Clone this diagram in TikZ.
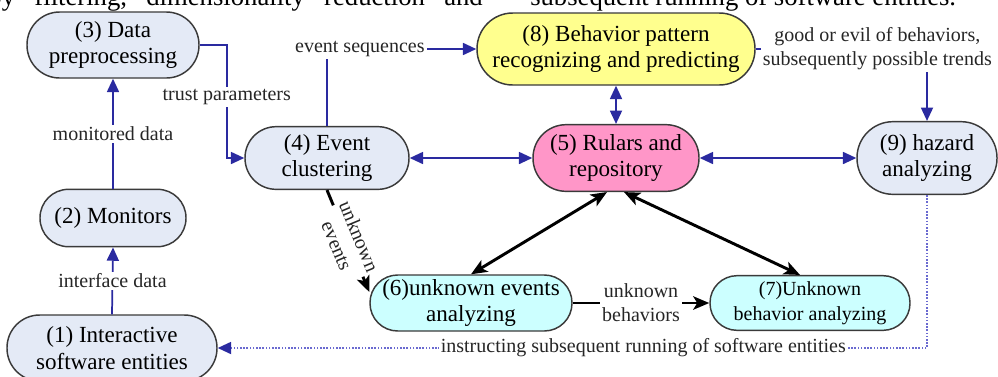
\documentclass[tikz,border=0pt]{standalone}
\usepackage{fontspec}
\setmainfont{Liberation Serif}
\usetikzlibrary{arrows.meta,calc}
\definecolor{nodeblue}{HTML}{E4EAF6}
\definecolor{yellowfill}{HTML}{FFFF8E}
\definecolor{pinkfill}{HTML}{FF96C8}
\definecolor{cyanfill}{HTML}{CCFFFF}
\definecolor{bordergray}{HTML}{3A3A3A}
\definecolor{lineblue}{HTML}{2A2AA0}
\definecolor{dotblue}{HTML}{6A6AD0}
\begin{document}
\begin{tikzpicture}[x=0.75pt,y=-0.75pt,
  pill/.style n args={4}{draw=bordergray, line width=1.1pt, fill=#1,
    minimum width=#2, minimum height=#3, rounded corners=#4,
    inner sep=0pt, align=center, font=\fontsize{17.3}{20}\selectfont},
  lab/.style={font=\fontsize{15}{18}\selectfont, fill=white, inner sep=1.5pt, align=center, text=black!85},
  bl/.style={draw=lineblue, line width=1.3pt},
  bltip/.style={-{Triangle[length=10pt,width=9pt,color=lineblue]}},
  blboth/.style={{Triangle[length=10pt,width=9pt]}-{Triangle[length=10pt,width=9pt]}},
  blk/.style={draw=black, line width=2.2pt},
  blktip/.style={-{Stealth[length=12pt,width=10pt,inset=3pt]}},
  blkboth/.style={{Stealth[length=12pt,width=10pt,inset=3pt]}-{Stealth[length=12pt,width=10pt,inset=3pt]}},
  dots/.style={draw=dotblue, line width=1.3pt, dash pattern=on 1.2pt off 1.2pt}
]
\useasboundingbox (0,0) rectangle (998,376);
\clip (0,0) rectangle (998,376);

% cut-off page text at the top
\node[anchor=base east, inner sep=0pt, font=\fontsize{20}{24}\selectfont] (toptextA) at (483,5) {\spaceskip=14.5pt by filtering, dimensionality reduction and};
\node[anchor=base west, inner sep=0pt, font=\fontsize{20}{24}\selectfont] (toptextB) at (530,5) {subsequent running of software entities.};

% nodes
\node[pill={nodeblue}{129pt}{49.5pt}{24.5pt}] (n3) at (113,45) {(3) Data\\preprocessing};
\node[pill={yellowfill}{208.5pt}{54pt}{26.8pt}] (n8) at (616,49) {(8) Behavior pattern\\recognizing and predicting};
\node[pill={nodeblue}{123pt}{47pt}{23.3pt}] (n4) at (327,158) {(4) Event\\clustering};
\node[pill={pinkfill}{124.5pt}{50pt}{24.8pt}] (n5) at (616,158) {(5) Rulars and\\repository};
\node[pill={nodeblue}{105pt}{54.5pt}{27pt}] (n9) at (927,158) {(9) hazard\\analyzing};
\node[pill={nodeblue}{109.5pt}{43pt}{21.3pt}] (n2) at (113,218) {(2) Monitors};
\node[pill={nodeblue}{157.5pt}{49.5pt}{24.5pt}] (n1) at (112,348) {(1) Interactive\\software entities};
\node[pill={cyanfill}{151.5pt}{42pt}{20.8pt}] (n6) at (471,303) {(6)unknown events\\analyzing};
\node[pill={cyanfill}{150pt}{41pt}{20.3pt}, font=\fontsize{15}{18.5}\selectfont] (n7) at (810,303) {(7)Unknown\\behavior analyzing};

% blue connectors
\draw[bl, bltip] (n1.north) -- node[lab]{interface data} (n2.south);
\draw[bl, bltip] (n2.north) -- node[lab]{monitored data} (n3.south);
\draw[bl, bltip] (n3.east) -- ++(27,0) |- node[lab, pos=0.23]{trust parameters} (n4.west);
\draw[bl, bltip] (n4.north) |- node[lab, pos=0.61]{event sequences} (n8.west);
\draw[bl, bltip] (n8.east) -| node[lab, pos=0.355]{good or evil of behaviors,\\subsequently possible trends} (n9.north);
\draw[bl, blboth] (n8.south) -- (n5.north);
\draw[bl, blboth] (n4.east) -- (n5.west);
\draw[bl, blboth] (n5.east) -- (n9.west);
\draw[dots, bltip] (n9.south) |- node[lab, pos=0.70]{instructing subsequent running of software entities} (n1.east);

% black connectors
\draw[blk, blktip] (n4.south) -- node[lab, sloped, inner sep=1pt]{unknown\\events} ($(n6.west)+(0,-11)$);
\draw[blk, blkboth] ($(n5.south)+(-9,0)$) -- (n6.north);
\draw[blk, blkboth] ($(n5.south)+(8,0)$) -- ($(n7.north)+(-10,0)$);
\draw[blk, blktip] (n6.east) -- node[lab]{unknown\\behaviors} (n7.west);
\end{tikzpicture}
\end{document}
